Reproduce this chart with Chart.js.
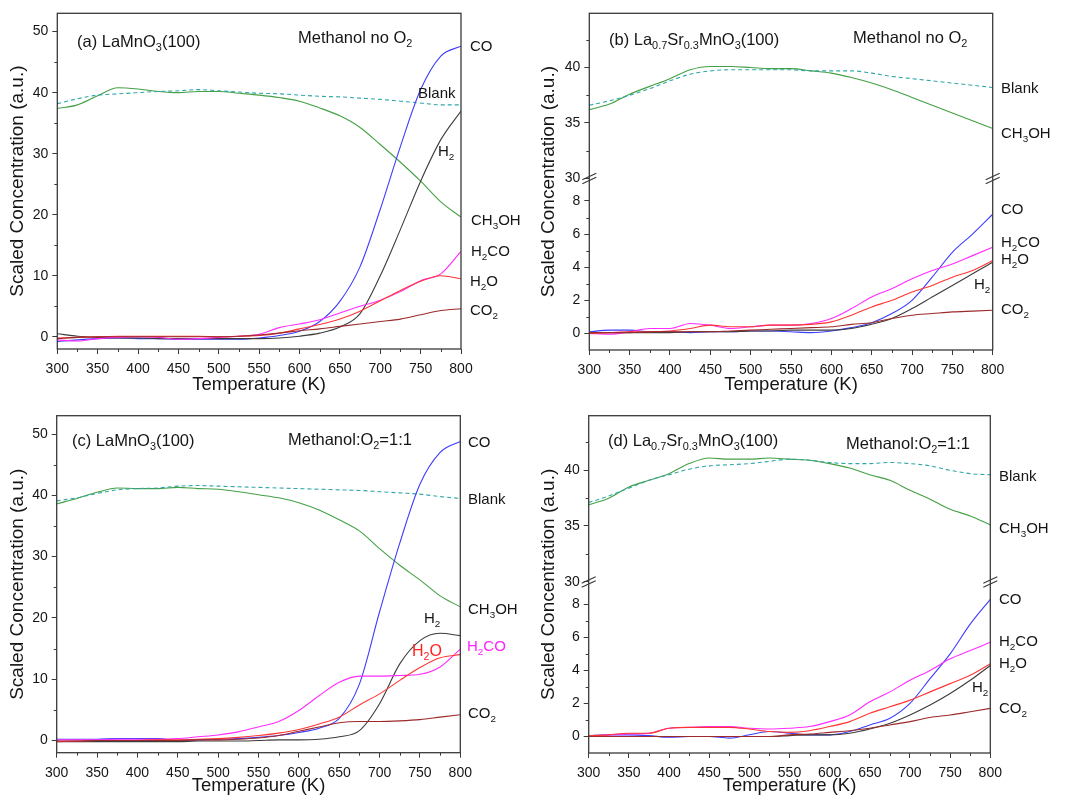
<!DOCTYPE html>
<html>
<head>
<meta charset="utf-8">
<title>Methanol TPR</title>
<script src="https://cdn.jsdelivr.net/npm/chart.js@4.4.1/dist/chart.umd.min.js"></script>
<style>
  html, body { margin: 0; padding: 0; background: #fff; }
  #wrap { position: relative; width: 1073px; height: 797px; overflow: hidden; }
  #wrap canvas { position: absolute; }
</style>
</head>
<body>
<div id="wrap">
  <canvas id="panelA" width="530" height="400" style="left:0;top:0"></canvas>
  <canvas id="panelB" width="543" height="400" style="left:530px;top:0"></canvas>
  <canvas id="panelC" width="530" height="397" style="left:0;top:400px"></canvas>
  <canvas id="panelD" width="543" height="397" style="left:530px;top:400px"></canvas>
</div>
<script>
// temperature grid (K), shared by every trace
var temps = [300, 325, 350, 375, 400, 425, 450, 475, 500, 525, 550, 575, 600, 625, 650, 675, 700, 725, 750, 775, 800];
var tempTicks = [300, 350, 400, 450, 500, 550, 600, 650, 700, 750, 800];

// (a) LaMnO3(100), methanol no O2
var coA    = [-0.8, -0.5, -0.3, -0.2, -0.3, -0.3, -0.4, -0.4, -0.4, -0.4, -0.2, 0.2, 0.9, 2.5, 5.8, 11.5, 20.9, 31.2, 40.5, 46.0, 47.6];
var h2A    = [0.5, 0.1, -0.1, -0.2, -0.2, -0.3, -0.3, -0.3, -0.3, -0.3, -0.3, -0.2, 0.1, 0.6, 1.6, 3.8, 10.0, 17.6, 25.5, 32.3, 37.0];
var meohA  = [37.4, 38.0, 39.5, 40.8, 40.6, 40.2, 40.0, 40.2, 40.2, 39.9, 39.6, 39.2, 38.6, 37.5, 36.2, 34.3, 31.5, 28.6, 25.5, 22.1, 19.6];
var blankA = [38.2, 39.0, 39.6, 39.8, 40.0, 40.2, 40.3, 40.5, 40.3, 40.1, 39.9, 39.8, 39.6, 39.4, 39.3, 39.1, 38.9, 38.6, 38.3, 38.0, 38.0];
var h2coA  = [-0.5, -0.7, -0.3, -0.1, 0.0, -0.1, -0.4, -0.3, -0.1, 0.1, 0.4, 1.5, 2.1, 2.8, 3.9, 5.0, 6.0, 7.4, 9.2, 10.3, 14.0];
var h2oA   = [-0.2, -0.1, 0.0, 0.1, 0.1, 0.1, 0.1, 0.1, 0.0, 0.1, 0.2, 0.6, 1.3, 2.0, 2.9, 4.2, 5.9, 7.6, 9.1, 10.0, 9.5];
var co2A   = [-0.3, -0.1, 0.0, 0.0, 0.0, 0.0, 0.0, 0.0, 0.0, 0.1, 0.3, 0.6, 1.0, 1.3, 1.7, 2.1, 2.5, 2.9, 3.6, 4.3, 4.6];

// (b) La0.7Sr0.3MnO3(100), methanol no O2
var meohB  = [36.2, 36.7, 37.6, 38.3, 39.0, 39.8, 40.1, 40.1, 40.0, 39.9, 39.9, 39.7, 39.5, 39.1, 38.6, 38.0, 37.3, 36.6, 35.9, 35.2, 34.5];
var blankB = [36.6, 37.0, 37.5, 38.1, 38.8, 39.4, 39.7, 39.8, 39.8, 39.8, 39.8, 39.7, 39.7, 39.7, 39.5, 39.2, 39.0, 38.8, 38.6, 38.4, 38.2];
var coB    = [0.1, 0.2, 0.2, 0.1, 0.1, 0.05, 0.1, 0.1, 0.15, 0.15, 0.1, 0.05, 0.15, 0.35, 0.65, 1.2, 2.0, 3.4, 4.9, 6.0, 7.2];
var h2coB  = [0.0, -0.05, 0.1, 0.3, 0.3, 0.6, 0.5, 0.3, 0.4, 0.5, 0.5, 0.6, 0.9, 1.5, 2.2, 2.7, 3.3, 3.8, 4.2, 4.7, 5.2];
var h2oB   = [0.0, 0.05, 0.1, 0.1, 0.15, 0.3, 0.5, 0.4, 0.4, 0.5, 0.5, 0.55, 0.7, 1.1, 1.6, 2.0, 2.5, 2.9, 3.4, 3.8, 4.4];
var h2B    = [0.05, 0.05, 0.05, 0.05, 0.05, 0.1, 0.1, 0.1, 0.15, 0.15, 0.2, 0.2, 0.2, 0.3, 0.55, 0.9, 1.5, 2.2, 2.9, 3.6, 4.3];
var co2B   = [0.05, 0.05, 0.05, 0.1, 0.1, 0.1, 0.1, 0.15, 0.2, 0.25, 0.3, 0.35, 0.4, 0.55, 0.65, 0.9, 1.1, 1.2, 1.3, 1.35, 1.4];

// (c) LaMnO3(100), methanol:O2 = 1:1
var coC    = [0.2, 0.2, 0.2, 0.3, 0.3, 0.3, 0.0, 0.1, 0.2, 0.3, 0.5, 0.8, 1.3, 2.0, 3.6, 9.2, 21.0, 32.2, 41.8, 47.0, 48.8];
var h2C    = [-0.2, -0.2, -0.2, -0.2, -0.2, -0.2, -0.2, -0.1, -0.1, -0.1, 0.0, 0.1, 0.1, 0.2, 0.6, 1.6, 6.0, 12.5, 16.3, 17.5, 17.1];
var meohC  = [38.6, 39.5, 40.5, 41.2, 41.1, 41.1, 41.3, 41.1, 41.0, 40.6, 40.1, 39.6, 38.8, 37.6, 36.0, 34.2, 31.3, 28.6, 26.2, 23.6, 21.8];
var blankC = [39.1, 39.6, 40.3, 40.9, 41.1, 41.2, 41.5, 41.6, 41.5, 41.4, 41.3, 41.2, 41.1, 41.0, 40.9, 40.8, 40.6, 40.4, 40.2, 39.8, 39.5];
var h2coC  = [0.1, 0.1, 0.1, 0.2, 0.2, 0.2, 0.3, 0.6, 0.9, 1.4, 2.2, 3.1, 4.9, 7.3, 9.5, 10.5, 10.5, 10.6, 10.8, 12.0, 14.9];
var h2oC   = [-0.2, -0.1, 0.0, 0.0, 0.0, 0.1, 0.1, 0.2, 0.3, 0.5, 0.8, 1.2, 1.8, 2.7, 3.8, 5.8, 7.6, 9.8, 11.9, 13.5, 14.0];
var co2C   = [-0.1, -0.1, 0.0, 0.0, 0.0, 0.0, 0.0, 0.1, 0.1, 0.2, 0.4, 0.8, 1.5, 2.2, 2.9, 3.1, 3.1, 3.2, 3.4, 3.8, 4.2];

// (d) La0.7Sr0.3MnO3(100), methanol:O2 = 1:1
var meohD  = [36.9, 37.5, 38.5, 39.1, 39.7, 40.6, 41.1, 41.0, 41.0, 41.1, 41.0, 40.9, 40.6, 40.2, 39.6, 39.1, 38.2, 37.4, 36.5, 35.9, 35.1];
var blankD = [37.1, 37.7, 38.4, 39.1, 39.6, 40.1, 40.4, 40.5, 40.6, 40.8, 41.0, 40.9, 40.7, 40.6, 40.6, 40.7, 40.6, 40.4, 40.0, 39.7, 39.6];
var coD    = [0.05, 0.1, 0.1, 0.05, -0.05, 0.0, 0.0, -0.1, 0.1, 0.3, 0.2, 0.1, 0.1, 0.3, 0.7, 1.1, 2.0, 3.5, 5.0, 6.8, 8.3];
var h2coD  = [0.0, 0.1, 0.15, 0.2, 0.5, 0.55, 0.6, 0.6, 0.5, 0.45, 0.5, 0.6, 0.9, 1.3, 2.1, 2.7, 3.4, 4.0, 4.7, 5.2, 5.7];
var h2oD   = [0.05, 0.1, 0.2, 0.2, 0.5, 0.55, 0.55, 0.55, 0.45, 0.3, 0.25, 0.35, 0.6, 0.9, 1.4, 1.8, 2.2, 2.7, 3.2, 3.7, 4.4];
var h2D    = [0.0, 0.0, 0.0, 0.0, 0.0, 0.0, 0.0, 0.0, 0.0, 0.0, 0.05, 0.1, 0.1, 0.2, 0.45, 0.8, 1.3, 1.9, 2.6, 3.4, 4.3];
var co2D   = [0.0, 0.0, 0.0, 0.0, 0.0, 0.0, 0.0, 0.0, 0.0, 0.0, 0.1, 0.15, 0.25, 0.35, 0.5, 0.7, 0.9, 1.15, 1.3, 1.5, 1.7];

var FONT = '"Liberation Sans", Arial, sans-serif';
var AXIS = '#3a3a3a';
var INK = '#151515';
var COLORS = {
  co: '#3d3dff', h2: '#3c3c3c', meoh: '#45a045', blank: '#2fa7a7',
  h2co: '#ff2cff', h2o: '#ff3535', co2: '#9c2a2a'
};

Chart.defaults.font.family = FONT;
Chart.defaults.color = INK;

function series(vals, color, yAxisID, dashed) {
  return {
    data: temps.map(function (t, i) { return { x: t, y: vals[i] }; }),
    borderColor: color,
    borderWidth: 1.1,
    borderDash: dashed ? [4, 3] : [],
    pointRadius: 0,
    fill: false,
    cubicInterpolationMode: 'monotone',
    yAxisID: yAxisID || 'y'
  };
}

// splits "CH_3OH" / "La_{0.7}" into normal and subscript runs
function parseRich(s) {
  var parts = [], buf = '', i = 0;
  while (i < s.length) {
    if (s[i] === '_') {
      if (buf) { parts.push([buf, false]); buf = ''; }
      if (s[i + 1] === '{') {
        var j = s.indexOf('}', i);
        parts.push([s.slice(i + 2, j), true]);
        i = j + 1;
      } else {
        parts.push([s[i + 1], true]);
        i += 2;
      }
    } else {
      buf += s[i++];
    }
  }
  if (buf) parts.push([buf, false]);
  return parts;
}

function drawRich(ctx, text, x, y, size, color) {
  var base = y + size * 0.36;
  ctx.fillStyle = color || INK;
  ctx.textAlign = 'left';
  ctx.textBaseline = 'alphabetic';
  parseRich(text).forEach(function (p) {
    if (p[1]) {
      ctx.font = (size * 0.66).toFixed(1) + 'px ' + FONT;
      ctx.fillText(p[0], x, base + size * 0.27);
    } else {
      ctx.font = size + 'px ' + FONT;
      ctx.fillText(p[0], x, base);
    }
    x += ctx.measureText(p[0]).width;
  });
}

function line(ctx, x1, y1, x2, y2) {
  ctx.beginPath();
  ctx.moveTo(x1, y1);
  ctx.lineTo(x2, y2);
  ctx.stroke();
}

// frame, minor ticks, axis break, y title and the in-plot labels
var decor = {
  id: 'decor',
  afterDraw: function (chart, args, o) {
    var ctx = chart.ctx, a = chart.chartArea;
    ctx.save();
    ctx.strokeStyle = AXIS;
    ctx.lineWidth = 1.3;
    ctx.strokeRect(a.left, a.top, a.right - a.left, a.bottom - a.top);

    ctx.lineWidth = 1;
    var xs = chart.scales.x;
    for (var t = 325; t < 800; t += 50) {
      var px = Math.round(xs.getPixelForValue(t)) + 0.5;
      line(ctx, px, a.bottom, px, a.bottom + 3);
    }
    Object.keys(o.minor).forEach(function (id) {
      var s = chart.scales[id];
      o.minor[id].forEach(function (v) {
        var py = Math.round(s.getPixelForValue(v)) + 0.5;
        line(ctx, a.left - 3, py, a.left, py);
      });
    });

    if (o.breakScale) {
      var yb = chart.scales[o.breakScale].bottom;
      ctx.lineWidth = 1.2;
      [a.left, a.right].forEach(function (bx) {
        line(ctx, bx - 7, yb + 1.5, bx + 7, yb - 5);
        line(ctx, bx - 7, yb + 5.5, bx + 7, yb - 1);
      });
    }

    ctx.save();
    ctx.translate(o.titleX, (a.top + a.bottom) / 2);
    ctx.rotate(-Math.PI / 2);
    ctx.font = '19px ' + FONT;
    ctx.fillStyle = INK;
    ctx.textAlign = 'center';
    ctx.textBaseline = 'middle';
    ctx.fillText('Scaled Concentration (a.u.)', 0, 0);
    ctx.restore();

    o.labels.forEach(function (l) {
      drawRich(ctx, l[0], l[1], l[2], l[4] || 15, l[3]);
    });
    ctx.restore();
  }
};

function xScale(axisHeight, labelPad, titlePad) {
  return {
    type: 'linear', min: 300, max: 800,
    afterBuildTicks: function (s) { s.ticks = tempTicks.map(function (v) { return { value: v }; }); },
    ticks: { font: { size: 14 }, color: INK, padding: labelPad, maxRotation: 0 },
    grid: { drawOnChartArea: false, drawTicks: true, tickLength: 5, tickColor: AXIS, tickWidth: 1 },
    border: { display: false },
    title: { display: true, text: 'Temperature (K)', font: { size: 18.5 }, color: INK, padding: { top: 0, bottom: titlePad } },
    afterFit: function (s) { s.height = axisHeight; }
  };
}

function yScale(min, max, step, width, extra) {
  var s = {
    type: 'linear', position: 'left', min: min, max: max,
    ticks: { stepSize: step, includeBounds: false, font: { size: 14 }, color: INK, padding: 4 },
    grid: { drawOnChartArea: false, drawTicks: true, tickLength: 5, tickColor: AXIS, tickWidth: 1 },
    border: { display: false },
    afterFit: function (sc) { sc.width = width; }
  };
  return Object.assign(s, extra || {});
}

function baseOptions(scales, padding, decorOpts) {
  return {
    responsive: false,
    animation: false,
    layout: { padding: padding },
    scales: scales,
    plugins: { legend: { display: false }, tooltip: { enabled: false }, decor: decorOpts }
  };
}

// single-range panels (a) and (c)
function fullPanel(id, d, pad, xh, labelPad, titlePad, labels) {
  new Chart(document.getElementById(id), {
    type: 'line',
    data: { datasets: [
      series(d.co2, COLORS.co2), series(d.h2o, COLORS.h2o), series(d.h2co, COLORS.h2co),
      series(d.h2, COLORS.h2), series(d.co, COLORS.co),
      series(d.blank, COLORS.blank, 'y', true), series(d.meoh, COLORS.meoh)
    ] },
    options: baseOptions(
      { x: xScale(xh, labelPad, titlePad), y: yScale(-2, 53, 10, pad.axisW) },
      { left: 0, top: pad.top, right: pad.right, bottom: 0 },
      { minor: { y: [5, 15, 25, 35, 45] }, titleX: 18, labels: labels }
    ),
    plugins: [decor]
  });
}

// broken-axis panels (b) and (d): a 30-45 window stacked on a -1 to 9 window
function brokenPanel(id, d, pad, xh, labelPad, titlePad, upperH, lowerH, labels) {
  new Chart(document.getElementById(id), {
    type: 'line',
    data: { datasets: [
      series(d.co2, COLORS.co2, 'yLow'), series(d.h2o, COLORS.h2o, 'yLow'), series(d.h2co, COLORS.h2co, 'yLow'),
      series(d.h2, COLORS.h2, 'yLow'), series(d.co, COLORS.co, 'yLow'),
      series(d.blank, COLORS.blank, 'yHigh', true), series(d.meoh, COLORS.meoh, 'yHigh')
    ] },
    options: baseOptions(
      {
        x: xScale(xh, labelPad, titlePad),
        yLow: yScale(-1, 9.37, 2, pad.axisW, { stack: 'conc', stackWeight: lowerH }),
        yHigh: yScale(30, 44.9, 5, pad.axisW, { stack: 'conc', stackWeight: upperH })
      },
      { left: 0, top: pad.top, right: pad.right, bottom: 0 },
      { minor: { yLow: [1, 3, 5, 7], yHigh: [32.5, 37.5, 42.5] }, breakScale: 'yHigh', titleX: 19, labels: labels }
    ),
    plugins: [decor]
  });
}

fullPanel('panelA',
  { co: coA, h2: h2A, meoh: meohA, blank: blankA, h2co: h2coA, h2o: h2oA, co2: co2A },
  { top: 13.3, right: 69, axisW: 57.3 }, 51, 7, 4,
  [['(a) LaMnO_3(100)', 77, 41, INK, 16.5], ['Methanol no O_2', 298, 37, INK, 16.5], ['CO', 470, 46], ['Blank', 418, 93],
   ['H_2', 438, 151], ['CH_3OH', 471, 220], ['H_2CO', 471, 251], ['H_2O', 470, 281], ['CO_2', 470, 310]]);

brokenPanel('panelB',
  { co: coB, h2: h2B, meoh: meohB, blank: blankB, h2co: h2coB, h2o: h2oB, co2: co2B },
  { top: 13.3, right: 80.3, axisW: 59.3 }, 50, 7, 4, 165, 171.7,
  [['(b) La_{0.7}Sr_{0.3}MnO_3(100)', 79, 39, INK, 16.5], ['Methanol no O_2', 323, 37, INK, 16.5], ['Blank', 471, 88],
   ['CH_3OH', 471, 133], ['CO', 471, 209], ['H_2CO', 471, 242], ['H_2O', 471, 259], ['H_2', 444, 284],
   ['CO_2', 471, 309]]);

fullPanel('panelC',
  { co: coC, h2: h2C, meoh: meohC, blank: blankC, h2co: h2coC, h2o: h2oC, co2: co2C },
  { top: 15.7, right: 69.7, axisW: 56.7 }, 44.3, 7, 0,
  [['(c) LaMnO_3(100)', 72, 40, INK, 16.5], ['Methanol:O_2=1:1', 288, 39, INK, 16.5], ['CO', 468, 42], ['Blank', 468, 99],
   ['CH_3OH', 468, 209], ['H_2', 424, 218], ['H_2O', 412, 250, '#ff2020', 16], ['H_2CO', 467, 246, '#ff20ff'],
   ['CO_2', 468, 313]]);

brokenPanel('panelD',
  { co: coD, h2: h2D, meoh: meohD, blank: blankD, h2co: h2coD, h2o: h2oD, co2: co2D },
  { top: 15.7, right: 82.7, axisW: 58.7 }, 44, 7, 0, 166, 171.3,
  [['(d) La_{0.7}Sr_{0.3}MnO_3(100)', 78, 40, INK, 16.5], ['Methanol:O_2=1:1', 316, 43, INK, 16.5], ['Blank', 469, 76],
   ['CH_3OH', 469, 128], ['CO', 469, 199], ['H_2CO', 469, 241], ['H_2O', 469, 263], ['H_2', 442, 287],
   ['CO_2', 469, 308]]);
</script>
</body>
</html>
